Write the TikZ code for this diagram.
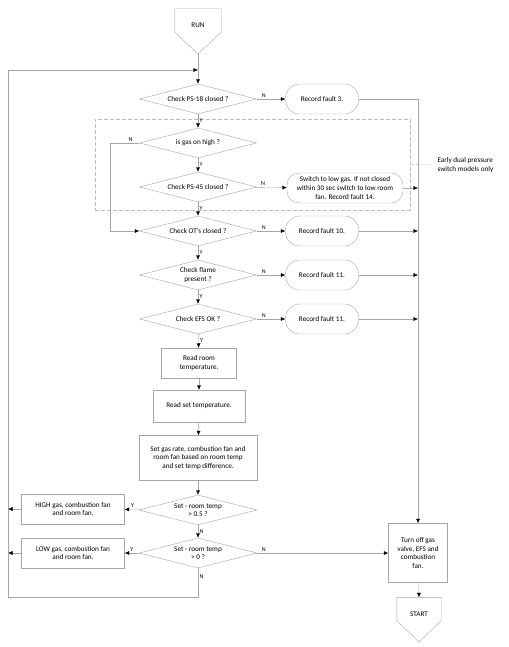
\documentclass[tikz,border=0pt]{standalone}
\usepackage{fontspec}
\setmainfont{Carlito}
\usetikzlibrary{shapes.geometric,arrows.meta}
\definecolor{linegray}{HTML}{A6A6A6}
\definecolor{dashgray}{HTML}{BDBDBD}

\begin{document}
\begin{tikzpicture}[x=1pt, y=-1pt, font=\fontsize{7.2}{8.6}\selectfont,
  dec/.style={draw=linegray, diamond, aspect=3.9, minimum width=117pt, minimum height=30pt, inner sep=0pt, align=center},
  proc/.style={draw=linegray, rectangle, minimum height=30pt, inner sep=2pt, align=center},
  fault/.style={draw=linegray, rectangle, rounded corners=14pt, minimum width=73pt, minimum height=30pt, align=center},
  offpage/.style={rectangle, minimum width=46pt, minimum height=23pt, inner sep=0pt, text height=14pt, text depth=0pt},
  flow/.style={draw=linegray, -{Latex[length=4.5pt, width=4pt, color=black]}},
  yn/.style={font=\fontsize{6}{7}\selectfont, inner sep=1.5pt}]
\useasboundingbox (0,0) rectangle (508,647);
% main column
\node[offpage] (run) at (198,20.5) {RUN};
\coordinate (runtip) at (198,54);
\draw[linegray] (run.south west) -- (run.north west) -- (run.north east) -- (run.south east) -- (runtip) -- cycle;
\node[dec] (ps18) at (198,99) {Check PS-18 closed ?};
\node[fault] (f3) at (322,99) {Record fault 3.};
\node[dec] (gashigh) at (198,143) {is gas on high ?};
\node[dec] (ps45) at (198,187) {Check PS-45 closed ?};
\node[fault, minimum width=116pt, rounded corners=12pt, inner sep=1pt] (lowgas) at (345,188) {Switch to low gas. If not closed\\within 30 sec switch to low room\\fan. Record fault 14.};
\node[dec] (ots) at (198,231) {Check OT's closed ?};
\node[fault] (f10) at (322,231) {Record fault 10.};
\node[dec] (flame) at (198,275) {Check flame\\present ?};
\node[fault] (f11a) at (322,275) {Record fault 11.};
\node[dec] (efs) at (198,319) {Check EFS OK ?};
\node[fault] (f11b) at (322,319) {Record fault 11.};
\node[proc, minimum width=75pt] (readroom) at (199,363) {Read room\\temperature.};
\node[proc, minimum width=92pt, minimum height=32pt] (readset) at (199,406) {Read set temperature.};
\node[proc, minimum width=118pt, minimum height=45pt] (setrate) at (198,458) {Set gas rate, combustion fan and\\room fan based on room temp\\and set temp difference.};
\node[dec, minimum width=118pt] (gt05) at (198,510) {Set - room temp\\> 0.5 ?};
\node[proc, minimum width=103pt] (highgas) at (73,509) {HIGH gas, combustion fan\\and room fan.};
\node[dec, minimum width=118pt] (gt0) at (198,553) {Set - room temp\\> 0 ?};
\node[proc, minimum width=103pt] (lowfan) at (73,553) {LOW gas, combustion fan\\and room fan.};
\node[proc, minimum width=59pt, minimum height=59pt] (turnoff) at (418,553) {Turn off gas\\valve, EFS and\\combustion\\fan.};
\node[offpage, minimum width=44pt] (start) at (419,609) {START};
\coordinate (starttip) at (419,642);
\draw[linegray] (start.south west) -- (start.north west) -- (start.north east) -- (start.south east) -- (starttip) -- cycle;
% dual pressure switch group
\node[draw=dashgray, dash pattern=on 4pt off 2pt, minimum width=315pt, minimum height=91pt] (dualps) at (252.5,164.5) {};
\node[align=left, anchor=west] (note) at (434,165) {Early dual pressure\\switch models only};
\draw[dashgray, dash pattern=on 4pt off 2pt] (dualps.east) -- (note.west);
\coordinate (rail) at (8,597);
\coordinate (loop) at (198,70);
% connectors
\draw[flow] (runtip) -- (ps18);
\draw[flow] (ps18) -- node[yn, right] {Y} (gashigh);
\draw[flow] (ps18) -- node[yn, near start, above] {N} (f3);
\draw[flow] (f3) -| (turnoff);
\draw[flow] (gashigh) -- node[yn, right] {Y} (ps45);
\draw[flow] (gashigh.west) -- node[yn, pos=0.3, above] {N} ++(-29,0) |- (ots.west);
\draw[flow] (ps45) -- node[yn, near start, above] {N} (lowgas);
\draw[flow] (lowgas.east) -- (lowgas.east -| turnoff.north);
\draw[flow] (ps45) -- node[yn, right] {Y} (ots);
\draw[flow] (ots) -- node[yn, near start, above] {N} (f10);
\draw[flow] (f10.east) -- (f10.east -| turnoff.north);
\draw[flow] (ots) -- node[yn, right] {Y} (flame);
\draw[flow] (flame) -- node[yn, near start, above] {N} (f11a);
\draw[flow] (f11a.east) -- (f11a.east -| turnoff.north);
\draw[flow] (flame) -- node[yn, right] {Y} (efs);
\draw[flow] (efs) -- node[yn, near start, above] {N} (f11b);
\draw[flow] (f11b.east) -- (f11b.east -| turnoff.north);
\draw[flow] (efs) -- node[yn, right] {Y} (readroom);
\draw[flow] (readroom) -- (readset);
\draw[flow] (readset) -- (setrate);
\draw[flow] (setrate) -- (gt05);
\draw[flow] (gt05) -- node[yn, pos=0.5, above] {Y} (highgas);
\draw[flow] (highgas) -- (highgas -| rail);
\draw[flow] (gt05) -- node[yn, right] {N} (gt0);
\draw[flow] (gt0) -- node[yn, pos=0.5, above] {Y} (lowfan);
\draw[flow] (lowfan) -- (lowfan -| rail);
\draw[flow] (gt0) -- node[yn, pos=0.05, above] {N} (turnoff);
\draw[flow] (gt0.south) -- node[yn, pos=0.3, right] {N} (gt0.south |- rail) -- (rail) |- (loop);
\draw[flow] (turnoff) -- (start.north);
\end{tikzpicture}
\end{document}
